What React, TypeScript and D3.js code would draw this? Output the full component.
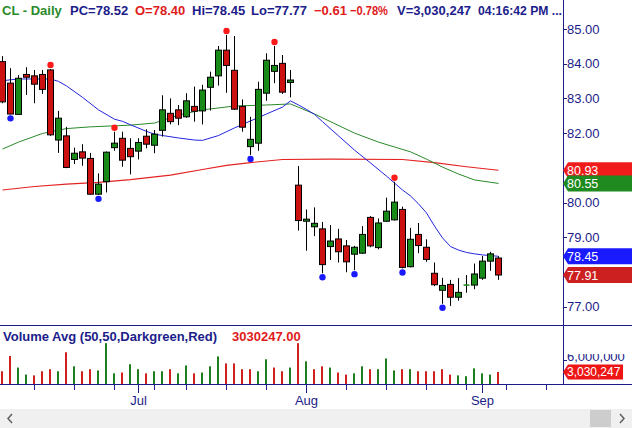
import React from 'react';
import * as d3 from 'd3';

// CL daily, Jun 8 - Sep 3 2021
const dates = [
  '2021-06-08', '2021-06-09', '2021-06-10', '2021-06-11', '2021-06-14', '2021-06-15', '2021-06-16', '2021-06-17',
  '2021-06-18', '2021-06-21', '2021-06-22', '2021-06-23', '2021-06-24', '2021-06-25', '2021-06-28', '2021-06-29',
  '2021-06-30', '2021-07-01', '2021-07-02', '2021-07-06', '2021-07-07', '2021-07-08', '2021-07-09', '2021-07-12',
  '2021-07-13', '2021-07-14', '2021-07-15', '2021-07-16', '2021-07-19', '2021-07-20', '2021-07-21', '2021-07-22',
  '2021-07-23', '2021-07-26', '2021-07-27', '2021-07-28', '2021-07-29', '2021-07-30', '2021-08-02', '2021-08-03',
  '2021-08-04', '2021-08-05', '2021-08-06', '2021-08-09', '2021-08-10', '2021-08-11', '2021-08-12', '2021-08-13',
  '2021-08-16', '2021-08-17', '2021-08-18', '2021-08-19', '2021-08-20', '2021-08-23', '2021-08-24', '2021-08-25',
  '2021-08-26', '2021-08-27', '2021-08-30', '2021-08-31', '2021-09-01', '2021-09-02', '2021-09-03'
];
// empty slots to the right of the last bar
const futureDates = ['2021-09-06', '2021-09-07', '2021-09-08', '2021-09-09', '2021-09-10', '2021-09-13', '2021-09-14'];

const opens = [
  84.06, 83.44, 82.54, 83.69, 83.65, 83.69, 83.82, 81.80, 81.92, 81.24, 81.46, 81.27, 80.24, 80.60, 81.58, 81.85,
  81.56, 81.48, 81.91, 81.65, 82.08, 82.57, 82.67, 82.47, 82.77, 82.64, 83.32, 83.65, 84.39, 83.81, 82.77, 81.61,
  81.71, 83.15, 83.78, 84.01, 83.46, 80.50, 79.46, 79.30, 79.24, 78.73, 78.95, 78.75, 78.51, 78.54, 79.57, 78.70,
  79.46, 79.50, 79.80, 78.15, 79.08, 78.71, 77.96, 77.47, 77.64, 77.27, 77.61, 77.62, 77.82, 78.31, 78.40
];
const highs = [
  84.22, 83.87, 83.67, 83.90, 83.82, 83.82, 83.85, 82.64, 82.18, 81.58, 81.68, 81.43, 80.84, 81.47, 82.04, 82.04,
  81.85, 81.85, 82.11, 82.09, 83.09, 83.00, 82.81, 83.15, 83.34, 83.39, 83.77, 84.51, 84.83, 84.80, 82.97, 82.47,
  83.48, 84.30, 84.51, 84.25, 83.82, 81.05, 79.80, 79.86, 79.44, 79.35, 79.24, 78.92, 78.75, 79.32, 79.61, 79.54,
  80.14, 80.60, 79.88, 79.27, 79.41, 78.94, 78.27, 77.83, 77.77, 77.82, 77.91, 78.24, 78.46, 78.58, 78.45
];
const lows = [
  82.86, 82.54, 82.54, 83.10, 82.86, 83.13, 81.92, 81.43, 80.99, 81.11, 81.06, 80.22, 80.22, 80.29, 81.49, 81.03,
  80.81, 81.24, 81.56, 81.42, 81.90, 82.25, 82.23, 82.44, 82.33, 82.25, 82.65, 83.37, 83.16, 82.67, 82.04, 81.37,
  81.49, 82.93, 83.44, 83.13, 83.03, 79.19, 78.61, 79.03, 77.96, 78.34, 78.27, 77.99, 78.05, 78.52, 78.71, 78.65,
  79.44, 79.48, 78.10, 78.13, 78.54, 78.29, 77.59, 77.08, 77.02, 77.17, 77.40, 77.50, 77.77, 78.03, 77.77
];
const closes = [
  82.90, 82.55, 83.58, 83.61, 83.41, 83.26, 81.95, 82.43, 81.01, 81.42, 81.28, 80.24, 80.53, 81.45, 81.71, 81.22,
  81.32, 81.73, 81.68, 81.97, 82.67, 82.33, 82.43, 82.93, 82.63, 83.24, 83.61, 84.39, 83.95, 82.69, 82.17, 81.82,
  83.26, 84.10, 83.95, 83.18, 83.53, 79.48, 79.52, 79.40, 78.21, 78.89, 78.58, 78.29, 78.71, 79.08, 78.75, 79.41,
  79.75, 80.01, 78.13, 78.94, 78.76, 78.36, 77.63, 77.61, 77.27, 77.41, 77.62, 77.94, 78.31, 78.52, 77.91
];
// millions of shares
const volumes = [
  3.2, 6.9, 4.1, 2.4, 2.2, 3.2, 3.7, 3.2, 7.8, 4.4, 3.2, 3.7, 3.4, 10.0, 2.7, 2.9,
  4.9, 3.7, 2.7, 3.2, 3.2, 3.7, 2.7, 4.6, 2.7, 2.9, 4.4, 6.8, 5.1, 5.1, 3.7, 3.7,
  3.2, 6.1, 4.1, 3.2, 4.1, 10.0, 5.6, 3.7, 4.4, 4.1, 2.9, 2.4, 2.7, 4.4, 3.7, 3.7,
  6.3, 3.4, 3.7, 3.7, 3.2, 3.2, 3.2, 3.7, 2.4, 2.2, 2.0, 3.9, 2.7, 2.4, 3.030247
];

// moving averages: [bar index, value]
const ma20 = [
  [0, 83.51], [2, 83.56], [6, 83.56], [7, 83.49], [8, 83.36], [10, 83.03], [12, 82.67], [14, 82.40], [15, 82.34],
  [16, 82.24], [18, 82.05], [19, 81.97], [20, 81.93], [22, 81.86], [24, 81.80], [25, 81.79], [27, 81.93], [29, 82.15],
  [31, 82.35], [33, 82.55], [35, 82.75], [36, 82.93], [37, 82.81], [38, 82.68], [39, 82.54], [40, 82.33], [42, 81.92],
  [44, 81.51], [46, 81.14], [48, 80.76], [50, 80.36], [51, 80.19], [52, 79.96], [53, 79.70], [54, 79.32], [55, 78.98],
  [56, 78.73], [57, 78.63], [58, 78.56], [59, 78.52], [60, 78.49], [61, 78.47], [62, 78.45]
];
const ma50 = [
  [0, 81.54], [2, 81.74], [5, 81.99], [8, 82.13], [11, 82.18], [16, 82.23], [19, 82.29], [22, 82.52], [25, 82.67],
  [29, 82.78], [33, 82.81], [36, 82.84], [39, 82.55], [44, 82.00], [47, 81.74], [51, 81.46], [53, 81.25], [55, 81.02],
  [57, 80.82], [59, 80.65], [62, 80.55]
];
const ma200 = [
  [0, 80.36], [4, 80.46], [8, 80.53], [12, 80.58], [16, 80.66], [21, 80.79], [25, 80.95], [28, 81.07], [31, 81.15],
  [35, 81.24], [41, 81.25], [50, 81.24], [54, 81.15], [58, 81.03], [62, 80.93]
];

const highMarks = [6, 14, 28, 34, 49];
const lowMarks = [1, 12, 31, 40, 44, 50, 55];
const priceTicks = [77, 78, 79, 80, 81, 82, 83, 84, 85];
const volumeTicks = [6];

const NAVY = '#1c1c8a';
const RED_TXT = '#e01b1b';
const UP = '#188a18';
const DOWN = '#cc1111';
const FONT = '"Liberation Sans", Arial, sans-serif';
const AXIS_X = 563;

export default function App() {
  const x = d3.scaleLinear().domain([0, 62]).range([2.5, 498.5]);
  const y = d3.scaleLinear().domain([77, 85]).range([306.6, 29]);
  const yv = d3.scaleLinear().domain([0, 14.4]).range([384.5, 325]);

  const n = closes.length;
  const last = n - 1;
  const line = d3
    .line<number[]>()
    .x((d) => x(d[0]))
    .y((d) => y(d[1]));

  const allDates = dates.concat(futureDates).map((s) => d3.timeParse('%Y-%m-%d')(s));
  const weekTicks = allDates
    .map((d, i) => i)
    .filter((i) => i > 0 && allDates[i].getDay() < allDates[i - 1].getDay());
  const monthTicks = allDates
    .map((d, i) => i)
    .filter((i) => i > 0 && allDates[i].getMonth() !== allDates[i - 1].getMonth());
  const fmtMonth = d3.timeFormat('%b');

  const chg = closes[last] - closes[last - 1];
  const fmt2 = d3.format('.2f');
  const volShares = Math.round(volumes[last] * 1e6);

  const tags = [
    { v: ma200[ma200.length - 1][1], color: '#f01c1c' },
    { v: ma50[ma50.length - 1][1], color: '#1f8a1f' },
    { v: ma20[ma20.length - 1][1], color: '#1a1aff' },
    { v: closes[last], color: '#cc1f1f' }
  ];
  const shownTicks = priceTicks.filter((t) => tags.every((g) => Math.abs(y(t) - y(g.v)) > 9));

  const tagPath = (yc: number, h: number, right: number) =>
    `M${AXIS_X},${yc} L${AXIS_X + 5},${yc - h / 2} L${right},${yc - h / 2} L${right},${yc + h / 2} L${AXIS_X + 5},${yc + h / 2} Z`;

  const title = [
    { t: 'CL - Daily', x: 2, c: '#2a8a2a' },
    { t: `PC=${fmt2(closes[last - 1])}`, x: 70, c: NAVY },
    { t: `O=${fmt2(opens[last])}`, x: 135, c: RED_TXT },
    { t: `Hi=${fmt2(highs[last])}`, x: 192, c: NAVY },
    { t: `Lo=${fmt2(lows[last])}`, x: 251, c: NAVY },
    { t: fmt2(chg), x: 314, c: RED_TXT },
    { t: `${fmt2((chg / closes[last - 1]) * 100)}%`, x: 350, c: RED_TXT, len: 38 },
    { t: `V=${d3.format(',')(volShares)}`, x: 397, c: NAVY },
    { t: '04:16:42 PM ...', x: 478, c: NAVY, len: 84 }
  ];

  return (
    <div style={{ position: 'absolute', left: 0, top: 0 }}>
      <svg width={632} height={428} style={{ display: 'block', fontFamily: FONT }}>
        <defs>
          <clipPath id="volLbl">
            <rect x={AXIS_X} y={354} width={69} height={31} />
          </clipPath>
        </defs>
        <rect width={632} height={428} fill="#fff" />

        {/* title */}
        {title.map((s, i) => (
          <text
            key={`t${i}`}
            x={s.x}
            y={14.5}
            fontSize={13}
            fontWeight="bold"
            fill={s.c}
            textLength={s.len}
            lengthAdjust={s.len ? 'spacingAndGlyphs' : undefined}
          >
            {s.t}
          </text>
        ))}

        {/* moving averages */}
        <path d={line(ma200)} fill="none" stroke="#e52222" strokeWidth={1.1} />
        <path d={line(ma50)} fill="none" stroke="#2a8a2a" strokeWidth={1} />
        <path d={line(ma20)} fill="none" stroke="#2424e0" strokeWidth={1} />

        {/* candles */}
        {closes.map((c, i) => {
          const cx = x(i);
          const o = opens[i];
          const up = c >= o;
          const top = y(Math.max(o, c));
          const bot = y(Math.min(o, c));
          const col = up ? UP : DOWN;
          return (
            <g key={`c${i}`}>
              <line x1={cx} x2={cx} y1={y(highs[i])} y2={y(lows[i])} stroke="#000" strokeWidth={1} />
              {bot - top < 1.5 ? (
                <line x1={cx - 3} x2={cx + 3} y1={top} y2={top} stroke={col} strokeWidth={1.5} />
              ) : (
                <rect x={cx - 3} y={top} width={6} height={bot - top} fill={col} stroke="#000" strokeWidth={1} />
              )}
            </g>
          );
        })}

        {highMarks.map((i) => (
          <circle key={`h${i}`} cx={x(i)} cy={y(highs[i]) - 4} r={3.2} fill="#ff1a1a" />
        ))}
        {lowMarks.map((i) => (
          <circle key={`l${i}`} cx={x(i)} cy={y(lows[i]) + 4} r={3.2} fill="#1a1aff" />
        ))}

        {/* volume panel */}
        <text x={3} y={340.5} fontSize={13} fontWeight="bold" fill={NAVY}>
          Volume Avg (50,50,Darkgreen,Red)
        </text>
        <text x={232} y={340.5} fontSize={13} fontWeight="bold" fill={RED_TXT}>
          {fmt2(volShares)}
        </text>
        {volumes.map((v, i) => {
          const up = i === 0 ? closes[0] >= opens[0] : closes[i] >= closes[i - 1];
          return (
            <rect
              key={`v${i}`}
              x={x(i) - 1.5}
              y={yv(v)}
              width={2}
              height={yv(0) - yv(v)}
              fill={up ? '#1d7d1d' : '#d01f1f'}
            />
          );
        })}

        {/* frame */}
        <line x1={0} x2={632} y1={325.5} y2={325.5} stroke={NAVY} />
        <line x1={0} x2={632} y1={384.5} y2={384.5} stroke={NAVY} />
        <line x1={AXIS_X + 0.5} x2={AXIS_X + 0.5} y1={0} y2={385} stroke={NAVY} />

        {/* price axis */}
        {shownTicks.map((t) => (
          <g key={`pt${t}`}>
            <line x1={AXIS_X} x2={AXIS_X + 4} y1={Math.round(y(t)) + 0.5} y2={Math.round(y(t)) + 0.5} stroke={NAVY} />
            <text x={567} y={y(t) + 4.5} fontSize={13} fill={NAVY}>
              {fmt2(t)}
            </text>
          </g>
        ))}
        {tags.map((g, i) => (
          <g key={`tag${i}`}>
            <path d={tagPath(y(g.v), 16, 632)} fill={g.color} />
            <text x={567} y={y(g.v) + 4.5} fontSize={12.5} fill="#fff">
              {fmt2(g.v)}
            </text>
          </g>
        ))}

        {/* volume axis */}
        {volumeTicks.map((t) => (
          <g key={`vt${t}`}>
            <line x1={AXIS_X} x2={AXIS_X + 4} y1={Math.round(yv(t)) + 0.5} y2={Math.round(yv(t)) + 0.5} stroke={NAVY} />
            <text x={567} y={yv(t) + 1} fontSize={13} fill={NAVY} clipPath="url(#volLbl)">
              {d3.format(',')(t * 1e6)}
            </text>
          </g>
        ))}
        <path d={tagPath(yv(volumes[last]), 15, 623)} fill="#ee1515" />
        <text x={567} y={yv(volumes[last]) + 4.5} fontSize={12} fill="#fff">
          {d3.format(',')(volShares)}
        </text>

        {/* date axis */}
        {weekTicks.map((i) => (
          <line key={`wt${i}`} x1={x(i)} x2={x(i)} y1={385} y2={390} stroke={NAVY} />
        ))}
        {monthTicks.map((i) => (
          <g key={`mt${i}`}>
            <line x1={x(i)} x2={x(i)} y1={385} y2={393} stroke={NAVY} />
            <text x={x(i)} y={405} fontSize={13} fill={NAVY} textAnchor="middle">
              {fmtMonth(allDates[i])}
            </text>
          </g>
        ))}

        {/* scrollbar */}
        <rect x={0} y={409} width={632} height={19} fill="#f0f0f0" />
        <rect x={590} y={410} width={21} height={17} fill="#cdcdcd" />
        <path d="M12,414 L8,418.5 L12,423" fill="none" stroke="#606060" strokeWidth={1.5} />
        <path d="M620,414 L624,418.5 L620,423" fill="none" stroke="#606060" strokeWidth={1.5} />
      </svg>
    </div>
  );
}
